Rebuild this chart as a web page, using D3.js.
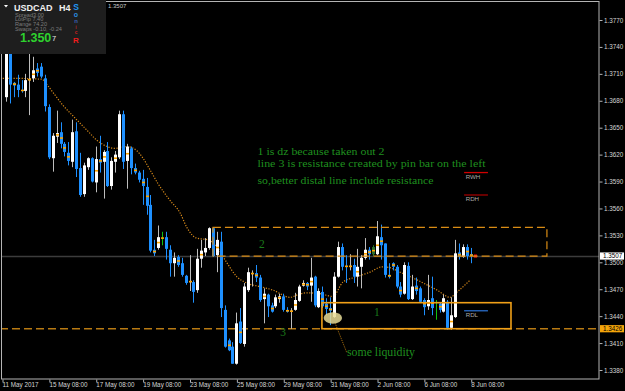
<!DOCTYPE html>
<html>
<head>
<meta charset="utf-8">
<script src="https://cdn.jsdelivr.net/npm/d3@7"></script>
<style>
  body { margin: 0; background: #000; }
  svg { display: block; }
  .axis text { font-family: "Liberation Sans", Arial, sans-serif; font-size: 6.3px; fill: #d4d4d4; }
  .axis line { stroke: #b4b4b4; }
  .axis path { display: none; }
</style>
</head>
<body>
<svg id="chart" width="625" height="391"></svg>
<script>
// H4 bars, bar 1 .. bar 120 (11 May 2017 -> 8 Jun 2017)
var opens = [1.3684,1.3737,1.3700,1.3698,1.3692,1.3691,1.3703,1.3705,1.3716,1.3718,
  1.3705,1.3673,1.3616,1.3640,1.3645,1.3632,1.3622,1.3612,1.3646,1.3605,
  1.3576,1.3606,1.3616,1.3589,1.3615,1.3612,1.3624,1.3585,1.3612,1.3617,
  1.3665,1.3613,1.3627,1.3605,1.3600,1.3593,1.3584,1.3564,1.3514,1.3516,
  1.3527,1.3528,1.3514,1.3499,1.3506,1.3499,1.3485,1.3478,1.3478,1.3469,
  1.3504,1.3511,1.3516,1.3538,1.3508,1.3523,1.3447,1.3413,1.3406,1.3387,
  1.3434,1.3409,1.3469,1.3487,1.3488,1.3483,1.3459,1.3464,1.3452,1.3451,
  1.3459,1.3462,1.3447,1.3445,1.3447,1.3457,1.3474,1.3477,1.3474,1.3484,
  1.3450,1.3467,1.3454,1.3449,1.3439,1.3484,1.3517,1.3496,1.3495,1.3497,
  1.3484,1.3495,1.3505,1.3514,1.3509,1.3509,1.3528,1.3521,1.3486,1.3499,
  1.3495,1.3473,1.3465,1.3496,1.3459,1.3474,1.3471,1.3458,1.3451,1.3460,
  1.3449,1.3454,1.3445,1.3456,1.3427,1.3439,1.3511,1.3506,1.3517,1.3509];
var highs = [1.3742,1.3741,1.3701,1.3709,1.3703,1.3710,1.3733,1.3729,1.3722,1.3722,
  1.3709,1.3676,1.3644,1.3669,1.3656,1.3634,1.3634,1.3659,1.3656,1.3622,
  1.3611,1.3617,1.3617,1.3629,1.3641,1.3625,1.3634,1.3617,1.3624,1.3669,
  1.3669,1.3632,1.3629,1.3610,1.3602,1.3603,1.3594,1.3575,1.3525,1.3541,
  1.3534,1.3534,1.3519,1.3511,1.3508,1.3505,1.3486,1.3508,1.3480,1.3515,
  1.3525,1.3527,1.3539,1.3539,1.3534,1.3534,1.3452,1.3415,1.3411,1.3444,
  1.3449,1.3477,1.3494,1.3491,1.3497,1.3486,1.3471,1.3465,1.3455,1.3464,
  1.3465,1.3465,1.3450,1.3449,1.3466,1.3475,1.3480,1.3478,1.3505,1.3485,
  1.3471,1.3473,1.3460,1.3461,1.3489,1.3523,1.3521,1.3508,1.3509,1.3504,
  1.3515,1.3508,1.3527,1.3517,1.3519,1.3546,1.3542,1.3521,1.3499,1.3500,
  1.3497,1.3478,1.3500,1.3500,1.3486,1.3483,1.3473,1.3460,1.3486,1.3484,
  1.3458,1.3455,1.3464,1.3458,1.3461,1.3525,1.3521,1.3520,1.3520,1.3516];
var lows = [1.3679,1.3677,1.3684,1.3684,1.3689,1.3684,1.3664,1.3701,1.3707,1.3705,
  1.3668,1.3615,1.3601,1.3633,1.3627,1.3618,1.3608,1.3606,1.3595,1.3573,
  1.3573,1.3603,1.3589,1.3578,1.3600,1.3571,1.3584,1.3581,1.3600,1.3615,
  1.3604,1.3582,1.3598,1.3598,1.3589,1.3564,1.3553,1.3511,1.3507,1.3514,
  1.3519,1.3503,1.3484,1.3484,1.3495,1.3484,1.3475,1.3468,1.3455,1.3466,
  1.3494,1.3507,1.3514,1.3506,1.3489,1.3439,1.3405,1.3401,1.3387,1.3386,
  1.3409,1.3406,1.3467,1.3473,1.3478,1.3456,1.3432,1.3439,1.3444,1.3449,
  1.3455,1.3445,1.3444,1.3426,1.3446,1.3456,1.3473,1.3469,1.3456,1.3450,
  1.3449,1.3449,1.3441,1.3430,1.3438,1.3483,1.3491,1.3477,1.3491,1.3477,
  1.3473,1.3471,1.3503,1.3503,1.3507,1.3508,1.3503,1.3483,1.3482,1.3491,
  1.3471,1.3461,1.3464,1.3458,1.3458,1.3464,1.3455,1.3441,1.3447,1.3441,
  1.3436,1.3444,1.3444,1.3425,1.3425,1.3438,1.3503,1.3505,1.3503,1.3499];
var closes = [1.3739,1.3698,1.3697,1.3692,1.3691,1.3703,1.3704,1.3714,1.3711,1.3707,
  1.3674,1.3617,1.3641,1.3644,1.3632,1.3623,1.3613,1.3645,1.3604,1.3575,
  1.3608,1.3616,1.3590,1.3615,1.3611,1.3623,1.3585,1.3613,1.3620,1.3665,
  1.3612,1.3629,1.3605,1.3600,1.3592,1.3585,1.3563,1.3513,1.3510,1.3528,
  1.3527,1.3515,1.3499,1.3505,1.3497,1.3486,1.3477,1.3479,1.3467,1.3504,
  1.3513,1.3516,1.3538,1.3507,1.3525,1.3449,1.3406,1.3402,1.3387,1.3432,
  1.3410,1.3473,1.3489,1.3488,1.3483,1.3458,1.3465,1.3451,1.3445,1.3461,
  1.3462,1.3447,1.3445,1.3446,1.3458,1.3473,1.3477,1.3473,1.3483,1.3452,
  1.3468,1.3451,1.3448,1.3446,1.3484,1.3517,1.3495,1.3495,1.3496,1.3484,
  1.3495,1.3505,1.3514,1.3509,1.3517,1.3529,1.3519,1.3486,1.3484,1.3495,
  1.3473,1.3464,1.3497,1.3459,1.3473,1.3468,1.3456,1.3450,1.3458,1.3449,
  1.3450,1.3447,1.3460,1.3427,1.3441,1.3510,1.3506,1.3517,1.3507,1.3507];

// bars painted by the signal indicator
var greenBars = [41, 111];
var darkGreenBars = [95];
// bars carrying the small orange mark
var markBars = [3,5,7,8,9,14,15,16,17,24,25,26,29,32,34,36,37,39,40,41,45,48,51,55,58,61,64,65,
  67,69,71,73,74,75,77,78,79,82,83,84,88,89,91,93,94,95,96,97,99,100,102,106,108,109,110,112,
  115,117,119,120];

// dotted moving average, [bar, price]
var maPoints = [[-0.5,1.3705],[2.6,1.3705],[10.2,1.3704],[11.5,1.3698],[13.1,1.3689],[15.6,1.3675],
  [18.2,1.3663],[21.8,1.3647],[24.3,1.3636],[26.9,1.3629],[28.9,1.3627],[32,1.3629],[34.6,1.3624],
  [36.1,1.3616],[37.9,1.3603],[39.9,1.3588],[43,1.3569],[45.6,1.3555],[47.3,1.3539],[49.8,1.3527],
  [52.8,1.3525],[55,1.3517],[57.5,1.3500],[60.1,1.3484],[62.6,1.3477],[66,1.3473],[69.4,1.3469],
  [73.7,1.3461],[75.8,1.3464],[78,1.3466],[81.4,1.3465],[84.7,1.3462],[87.3,1.3478],[90.9,1.3484],
  [94.2,1.3489],[97.3,1.3495],[99.3,1.3494],[101.9,1.3489],[104.5,1.3484],[107.8,1.3477],
  [111.4,1.3469],[114.7,1.3461],[116.5,1.3467],[119.8,1.3480]];

var priceTicks = [1.3770,1.3740,1.3710,1.3680,1.3650,1.3620,1.3590,1.3560,1.3530,1.3500,1.3470,1.3440,1.3410,1.3380];
var timeTickBars = [0,12,24,36,48,60,72,84,96,108,120];
var timeLabels = ["11 May 2017","15 May 08:00","17 May 08:00","19 May 08:00","23 May 08:00","25 May 08:00",
  "29 May 08:00","31 May 08:00","2 Jun 08:00","6 Jun 08:00","8 Jun 08:00"];

var bid = 1.3507;
var supportLine = 1.3426;
var zone1 = {from: 81.9, to: 130.3, top: 1.3455, bottom: 1.3426};
var zone2 = {from: 54.0, to: 139.5, top: 1.3539, bottom: 1.3507};
var levelMarks = [
  {name: "RWH", price: 1.3600, color: "#d00000"},
  {name: "RDH", price: 1.3575, color: "#a00000"},
  {name: "RDL", price: 1.3446, color: "#2a6cc8"}
];
var notes = ["1 is dz because taken out 2",
  "line 3 is resistance created by pin bar on the left",
  "so,better distal line include resistance"];
var noteWidths = [127, 228, 176];

var svg = d3.select("#chart");
var W = 599, H = 379;

var x = d3.scaleLinear().domain([0, 12]).range([2, 48.875]);
var y = d3.scaleLinear().domain([1.3380, 1.3770]).range([370, 20]);

svg.append("rect").attr("width", 625).attr("height", 391).attr("fill", "#000");

var plot = svg.append("g");
svg.append("defs").append("clipPath").attr("id", "clip")
  .append("rect").attr("x", 1).attr("y", 1).attr("width", W - 1).attr("height", H - 1);
plot.attr("clip-path", "url(#clip)");

// bid line
plot.append("line").attr("x1", 0).attr("x2", W).attr("y1", Math.round(y(bid)) + 0.5).attr("y2", Math.round(y(bid)) + 0.5)
  .attr("stroke", "#3c3c3c").attr("stroke-width", 1.5);

// level 3 dashed line
plot.append("line").attr("x1", 0).attr("x2", W).attr("y1", y(supportLine)).attr("y2", y(supportLine))
  .attr("stroke", "#b87a12").attr("stroke-width", 1.6).attr("stroke-dasharray", "8,4");

// moving average
var maLine = d3.line().x(function(d) { return x(d[0]); }).y(function(d) { return y(d[1]); }).curve(d3.curveMonotoneX);
plot.append("path").datum(maPoints).attr("d", maLine).attr("fill", "none")
  .attr("stroke", "#d88a1a").attr("stroke-width", 1.2).attr("stroke-dasharray", "1.2,1.5");

// candles
var bars = opens.map(function(o, k) {
  return {i: k + 1, o: o, h: highs[k], l: lows[k], c: closes[k]};
});
function cx(d) { return Math.round(x(d.i)); }
var candle = plot.selectAll(".candle").data(bars).enter().append("g").attr("class", "candle");
candle.append("line")
  .attr("x1", function(d) { return cx(d) + 0.5; })
  .attr("x2", function(d) { return cx(d) + 0.5; })
  .attr("y1", function(d) { return y(d.h); })
  .attr("y2", function(d) { return y(d.l); })
  .attr("stroke", function(d) {
    if (greenBars.indexOf(d.i) >= 0) return "#10c010";
    if (darkGreenBars.indexOf(d.i) >= 0) return "#2c7a2c";
    return d.c >= d.o ? "#bdbdbd" : "#1e90ff";
  });
candle.filter(function(d) { return greenBars.indexOf(d.i) < 0; }).append("rect")
  .attr("x", function(d) { return cx(d) - 1; })
  .attr("width", 3)
  .attr("y", function(d) { return y(Math.max(d.o, d.c)); })
  .attr("height", function(d) { return Math.max(1, Math.abs(y(d.o) - y(d.c))); })
  .attr("fill", function(d) {
    if (darkGreenBars.indexOf(d.i) >= 0) return "#2c6e2c";
    return d.c >= d.o ? "#ffffff" : "#1e90ff";
  });
// orange marks
plot.selectAll(".mark").data(bars.filter(function(d) { return markBars.indexOf(d.i) >= 0; }))
  .enter().append("rect")
  .attr("x", function(d) { return cx(d) - 1; })
  .attr("y", function(d) { return y((d.o + d.c) / 2) - 0.8; })
  .attr("width", 3).attr("height", 1.6).attr("fill", "#ffa500");

// bid dot
plot.append("rect").attr("x", Math.round(x(121)) - 1).attr("y", y(bid) - 1.5).attr("width", 3).attr("height", 3).attr("fill", "#ff1010");

// zone 2 (dashed)
plot.append("rect")
  .attr("x", x(zone2.from)).attr("y", y(zone2.top))
  .attr("width", x(zone2.to) - x(zone2.from)).attr("height", y(zone2.bottom) - y(zone2.top))
  .attr("fill", "none").attr("stroke", "#d98c14").attr("stroke-width", 1.2).attr("stroke-dasharray", "8,4");

// zone 1 (solid)
plot.append("rect")
  .attr("x", x(zone1.from)).attr("y", y(zone1.top))
  .attr("width", x(zone1.to) - x(zone1.from)).attr("height", y(zone1.bottom) - y(zone1.top))
  .attr("fill", "none").attr("stroke", "#f0a018").attr("stroke-width", 1.6);

// daily/weekly levels
levelMarks.forEach(function(m) {
  var ly = y(m.price);
  plot.append("line").attr("x1", x(118.3)).attr("x2", x(124.4)).attr("y1", ly).attr("y2", ly)
    .attr("stroke", m.color).attr("stroke-width", 1.3);
  plot.append("text").attr("x", x(118.7)).attr("y", ly + 6.3).text(m.name)
    .attr("font-family", "Liberation Sans, Arial, sans-serif").attr("font-size", 6.2).attr("fill", "#a8a8a8");
});

// liquidity ellipse and pointer
plot.append("line").attr("x1", x(85.3)).attr("y1", y(1.3432)).attr("x2", x(88.3)).attr("y2", y(1.3399))
  .attr("stroke", "#b0720e").attr("stroke-width", 1).attr("stroke-dasharray", "1,1");
plot.append("ellipse").attr("cx", x(84.7)).attr("cy", y(1.3438)).attr("rx", 9.2).attr("ry", 5.8)
  .attr("fill", "#e8dc96").attr("fill-opacity", 0.85);

// text annotations
var serif = "'Liberation Serif', 'DejaVu Serif', serif";
var green = "#1f8f1f";
plot.selectAll(".note").data(notes).enter().append("text")
  .attr("x", 257.5)
  .attr("y", function(d, k) { return [154.5, 166.7, 183.5][k]; })
  .attr("textLength", function(d, k) { return noteWidths[k]; })
  .attr("lengthAdjust", "spacingAndGlyphs")
  .attr("font-family", serif).attr("font-size", 10.5).attr("fill", green).text(function(d) { return d; });
[["2", 65.8, 1.3516], ["1", 95.2, 1.3440], ["3", 71.2, 1.3418]].forEach(function(t) {
  plot.append("text").attr("x", x(t[1])).attr("y", y(t[2])).text(t[0])
    .attr("font-family", serif).attr("font-size", 11.5).attr("fill", "#1a7a1a");
});
plot.append("text").attr("x", 347).attr("y", 355.8).text("some liquidity")
  .attr("font-family", serif).attr("font-size", 11.8).attr("fill", green);

// frame
svg.append("rect").attr("x", 1.5).attr("y", 1.5).attr("width", W - 1.5).attr("height", H - 1.5)
  .attr("fill", "none").attr("stroke", "#b4b4b4").attr("stroke-width", 1);

// price axis
var yAxis = svg.append("g").attr("class", "axis").attr("transform", "translate(" + (W + 0.5) + ",0)")
  .call(d3.axisRight(y).tickValues(priceTicks).tickFormat(d3.format(".4f")).tickSize(3).tickPadding(1.5));

// time axis
var xAxis = svg.append("g").attr("class", "axis").attr("transform", "translate(0," + (H + 0.5) + ")")
  .call(d3.axisBottom(x).tickValues(timeTickBars).tickFormat(function(d, k) { return timeLabels[k]; }).tickSize(3));
xAxis.selectAll(".tick line").attr("transform", "translate(0.5,0)");
xAxis.selectAll("text").attr("text-anchor", "start").attr("y", 3).attr("dx", 0);

// price boxes on the right
[[bid, "#ffffff", "#000"], [supportLine, "#f5a50a", "#000"]].forEach(function(b) {
  var by = y(b[0]);
  svg.append("rect").attr("x", W + 1).attr("y", by - 3.6).attr("width", 24).attr("height", 7.2).attr("fill", b[1]);
  svg.append("text").attr("x", W + 4).attr("y", by + 2.3).text(d3.format(".4f")(b[0]))
    .attr("font-family", "Liberation Sans, Arial, sans-serif").attr("font-size", 6.3).attr("fill", b[2]);
});

// header price text
svg.append("text").attr("x", 108).attr("y", 7.6).text("1.3507")
  .attr("font-family", "Liberation Sans, Arial, sans-serif").attr("font-size", 6).attr("fill", "#c8c8c8");

// info panel
var panel = svg.append("g");
panel.append("rect").attr("x", 0).attr("y", 0).attr("width", 106).attr("height", 54).attr("fill", "#1e1e1e");
panel.append("path").attr("d", "M4,5 L8,5 L6,7.5 Z").attr("fill", "#fff");
var sans = "Liberation Sans, Arial, sans-serif";
panel.append("text").attr("x", 14).attr("y", 10.8).text("USDCAD")
  .attr("font-family", sans).attr("font-size", 9).attr("font-weight", "bold").attr("fill", "#f0f0f0");
panel.append("text").attr("x", 59).attr("y", 10.8).text("H4")
  .attr("font-family", sans).attr("font-size", 9).attr("font-weight", "bold").attr("fill", "#f0f0f0");
var info = ["Spread3.00", "LotPip 7.40", "Range 74.20", "Swaps -0.10, -0.24"];
panel.selectAll(".info").data(info).enter().append("text")
  .attr("x", 15).attr("y", function(d, k) { return 16.6 + k * 4.8; })
  .attr("font-family", sans).attr("font-size", 5.6).attr("fill", "#7c7c7c").text(function(d) { return d; });
panel.append("text").attr("x", 20).attr("y", 42).text("1.350")
  .attr("font-family", sans).attr("font-size", 12.5).attr("font-weight", "bold").attr("fill", "#2ed12e");
panel.append("text").attr("x", 52).attr("y", 41).text("7")
  .attr("font-family", sans).attr("font-size", 7.5).attr("fill", "#e8e8e8");
var sonic = [["S", 10.3, "#2196f3", 8.5], ["o", 17, "#2a8ee0", 7], ["n", 23.4, "#3a5fae", 6],
  ["i", 29.4, "#a02828", 5.2], ["c", 34.4, "#d02020", 4.8], ["R", 43.3, "#ee1c1c", 8]];
sonic.forEach(function(s) {
  panel.append("text").attr("x", 76).attr("y", s[1]).attr("text-anchor", "middle").text(s[0])
    .attr("font-family", sans).attr("font-size", s[3]).attr("font-weight", "bold").attr("fill", s[2]);
});
</script>
</body>
</html>
